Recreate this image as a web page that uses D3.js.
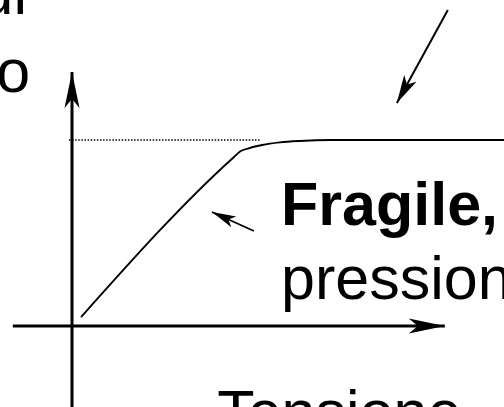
<!DOCTYPE html>
<html>
  <head>
    <title>Fragile, pressione</title>
    <style>
      body,
      html {
        margin: 0;
        padding: 0;
        background: #fff;
      }
      #svg {
        display: block;
        font-family: "Liberation Sans", Arial, sans-serif;
      }
    </style>
  </head>
  <body>
    <svg id="svg" width="504" height="407"></svg>

    <script src="https://cdn.jsdelivr.net/npm/d3@7"></script>
    <script>
      // curve, arbitrary units (plateau = 100)
      const curveX = [2.1, 37.5, 38.9, 40.7, 44.0, 48.1, 52.8, 59.7, 75.9, 100];
      const curveY = [4.8, 90.9, 93.8, 95.4, 97.3, 98.7, 99.5, 100, 100, 100];
      const plateauLevel = 100;
      const dottedTo = 43.5;

      const fragileLines = ['Fragile,', 'pressione'];
      const bottomLabel = 'Tensione';
      const topLeftLines = ['ul', 'o'];

      const svg = d3.select('#svg');

      const xscale = d3.scaleLinear().domain([0, 100]).range([72, 504]);
      const yscale = d3.scaleLinear().domain([0, 100]).range([326, 140]);

      const defs = svg.append('defs');

      function addArrow(id, len, half, notch) {
        defs.append('marker')
          .attr('id', id)
          .attr('markerUnits', 'userSpaceOnUse')
          .attr('viewBox', `${-len - 2} ${-half - 2} ${len + 4} ${2 * half + 4}`)
          .attr('markerWidth', len + 4)
          .attr('markerHeight', 2 * half + 4)
          .attr('refX', 0)
          .attr('refY', 0)
          .attr('orient', 'auto')
          .append('path')
          .attr('d', `M0,0L${-len},${-half}L${-len + notch},0L${-len},${half}Z`)
          .attr('fill', '#000');
      }
      addArrow('axisHead', 36, 7.5, 9);
      addArrow('bigHead', 28, 7, 7);
      addArrow('smallHead', 24, 6, 6);

      // axes
      svg.append('line')
        .attr('x1', xscale(-13.7))
        .attr('x2', xscale(86.3))
        .attr('y1', yscale(0))
        .attr('y2', yscale(0))
        .attr('stroke', '#000')
        .attr('stroke-width', 3)
        .attr('marker-end', 'url(#axisHead)');

      svg.append('line')
        .attr('x1', xscale(0))
        .attr('x2', xscale(0))
        .attr('y1', yscale(-50))
        .attr('y2', yscale(136.6))
        .attr('stroke', '#000')
        .attr('stroke-width', 3)
        .attr('marker-end', 'url(#axisHead)');

      // dotted reference level
      svg.append('line')
        .attr('x1', xscale(-0.7))
        .attr('x2', xscale(dottedTo))
        .attr('y1', yscale(plateauLevel))
        .attr('y2', yscale(plateauLevel))
        .attr('stroke', '#000')
        .attr('stroke-width', 1.4)
        .attr('stroke-dasharray', '1.5,1.6');

      const points = curveX.map((x, i) => [x, curveY[i]]);
      const linegen = d3.line()
        .x(d => xscale(d[0]))
        .y(d => yscale(d[1]))
        .curve(d3.curveMonotoneX);

      svg.append('path')
        .attr('d', linegen(points))
        .attr('fill', 'none')
        .attr('stroke', '#000')
        .attr('stroke-width', 1.9);

      // annotation arrows
      svg.append('line')
        .attr('x1', xscale(87.0))
        .attr('y1', yscale(169.9))
        .attr('x2', xscale(75.2))
        .attr('y2', yscale(119.9))
        .attr('stroke', '#000')
        .attr('stroke-width', 2)
        .attr('marker-end', 'url(#bigHead)');

      svg.append('line')
        .attr('x1', xscale(42.1))
        .attr('y1', yscale(51.1))
        .attr('x2', xscale(32.4))
        .attr('y2', yscale(61.3))
        .attr('stroke', '#000')
        .attr('stroke-width', 1.8)
        .attr('marker-end', 'url(#smallHead)');

      // labels
      svg.append('text')
        .attr('x', xscale(48.4))
        .attr('y', yscale(54.3))
        .attr('font-size', 61)
        .attr('font-weight', 'bold')
        .text(fragileLines[0]);

      svg.append('text')
        .attr('x', xscale(48.4))
        .attr('y', yscale(14.5))
        .attr('font-size', 61)
        .text(fragileLines[1]);

      svg.append('text')
        .attr('x', xscale(33.6))
        .attr('y', yscale(-57.5))
        .attr('font-size', 61)
        .text(bottomLabel);

      svg.append('text')
        .attr('x', xscale(-10.4))
        .attr('y', yscale(167.8))
        .attr('text-anchor', 'end')
        .attr('font-size', 61)
        .text(topLeftLines[0]);

      svg.append('text')
        .attr('x', xscale(-9.7))
        .attr('y', yscale(125.8))
        .attr('text-anchor', 'end')
        .attr('font-size', 61)
        .text(topLeftLines[1]);
    </script>
  </body>
</html>
